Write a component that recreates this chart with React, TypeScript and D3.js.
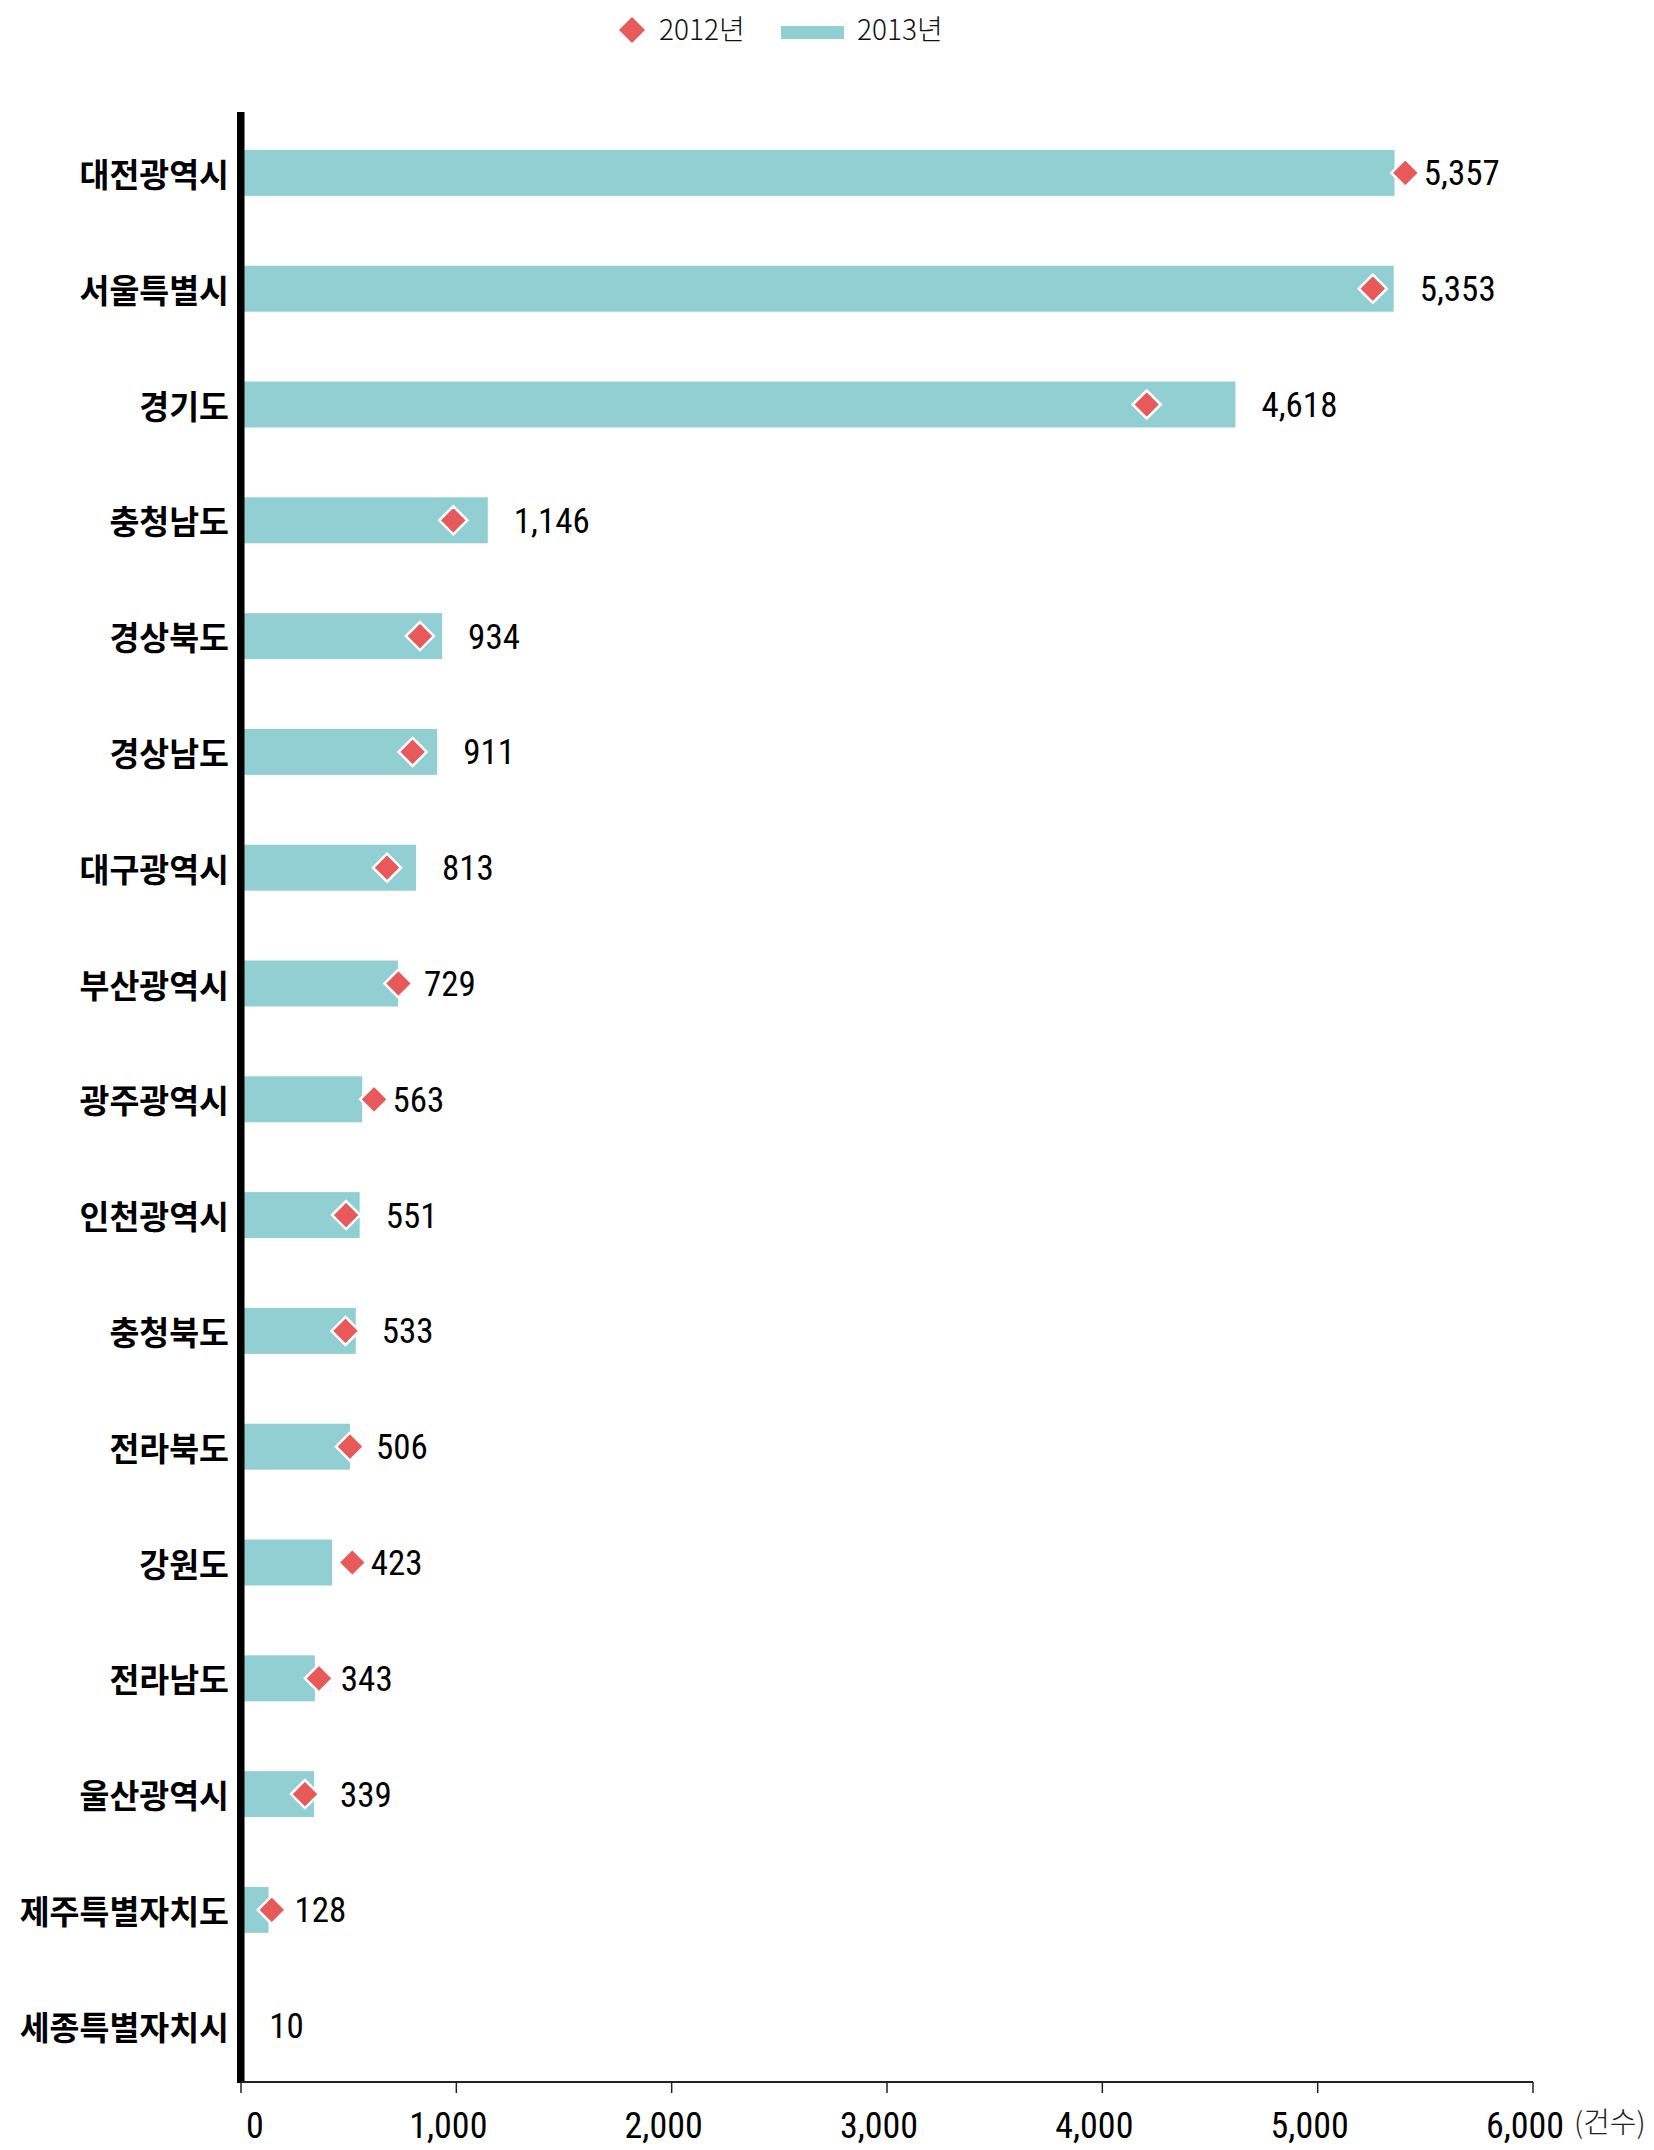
import React from "react";
import * as d3 from "d3";

const categories = [
  "대전광역시", "서울특별시", "경기도", "충청남도", "경상북도", "경상남도", "대구광역시", "부산광역시",
  "광주광역시", "인천광역시", "충청북도", "전라북도", "강원도", "전라남도", "울산광역시", "제주특별자치도", "세종특별자치시",
];
const values2013 = [5357, 5353, 4618, 1146, 934, 911, 813, 729, 563, 551, 533, 506, 423, 343, 339, 128, 10];
const values2012: (number | null)[] = [5407, 5256, 4206, 986, 831, 797, 678, 731, 618, 488, 485, 506, 517, 362, 297, 143, null];
const xTicks = [0, 1000, 2000, 3000, 4000, 5000, 6000];
const legendLabels = ["2012년", "2013년"];
const unitLabel = "(건수)";

const W = 1654;
const H = 2150;
const BAR_COLOR = "#92CFD3";
const DIAMOND_COLOR = "#E8595A";
const NUM_FONT = "'Liberation Sans Narrow', 'Roboto Condensed', 'DejaVu Sans Condensed', 'Liberation Sans', sans-serif";
const KR_FONT = "'Noto Sans CJK KR', 'Noto Sans', sans-serif";

export default function App() {
  const x = d3.scaleLinear().domain([0, 6000]).range([241, 1533]);
  const y = d3.scaleBand<string>().domain(categories).range([115, 2083.6]).paddingInner(0.603).paddingOuter(0.3015);
  const fmt = d3.format(",");
  const R = 14;
  const diamond = (cx: number, cy: number, r: number) =>
    `M${cx},${cy - r}L${cx + r},${cy}L${cx},${cy + r}L${cx - r},${cy}Z`;
  const axisY = 2082;

  return (
    <svg width={W} height={H} style={{ position: "absolute", left: 0, top: 0, background: "#fff" }}>
      {/* legend */}
      <path d={diamond(632, 30, 13)} fill={DIAMOND_COLOR} />
      <text x={659} y={40} fontFamily={KR_FONT} fontWeight={300} fontSize={28} fill="#111">{legendLabels[0]}</text>
      <rect x={781} y={26} width={63} height={13} fill={BAR_COLOR} />
      <text x={857} y={40} fontFamily={KR_FONT} fontWeight={300} fontSize={28} fill="#111">{legendLabels[1]}</text>

      {/* bars */}
      {categories.map((c, i) => (
        <rect key={"b" + c} x={x(0)} y={y(c)} width={x(values2013[i]) - x(0)} height={y.bandwidth()} fill={BAR_COLOR} />
      ))}

      {/* diamonds */}
      {categories.map((c, i) => {
        const v = values2012[i];
        if (v == null) return null;
        const cy = (y(c) as number) + y.bandwidth() / 2;
        return (
          <path key={"d" + c} d={diamond(x(v), cy, R)} fill={DIAMOND_COLOR} stroke="#fff" strokeWidth={2.5} strokeLinejoin="miter" />
        );
      })}

      {/* value labels */}
      {categories.map((c, i) => {
        const cy = (y(c) as number) + y.bandwidth() / 2;
        const barEnd = x(values2013[i]);
        const v = values2012[i];
        const dRight = v == null ? 0 : x(v) + R + 1.5;
        const lx = Math.max(barEnd + 26, dRight + 3);
        return (
          <text key={"v" + c} x={lx} y={cy + 12.5} fontFamily={NUM_FONT} fontSize={35} fill="#000">
            {fmt(values2013[i])}
          </text>
        );
      })}

      {/* category labels */}
      {categories.map((c) => {
        const cy = (y(c) as number) + y.bandwidth() / 2;
        return (
          <text key={"c" + c} x={229} y={cy + 14} textAnchor="end" fontFamily={KR_FONT} fontWeight={600} fontSize={32.5} fill="#000">
            {c}
          </text>
        );
      })}

      {/* thick vertical axis */}
      <rect x={237} y={112} width={7.5} height={axisY - 112 + 1} fill="#000" />

      {/* x axis */}
      <line x1={x(0)} x2={x(6000)} y1={axisY} y2={axisY} stroke="#222" strokeWidth={2} />
      {xTicks.map((t) => (
        <g key={"t" + t}>
          <line x1={x(t)} x2={x(t)} y1={axisY} y2={axisY + 11} stroke="#222" strokeWidth={1.5} />
          <text x={x(t) + (t === 0 ? 14 : -8)} y={2138} textAnchor="middle" fontFamily={NUM_FONT} fontSize={36} fill="#000">
            {fmt(t)}
          </text>
        </g>
      ))}
      <text x={1574} y={2133} fontFamily={KR_FONT} fontWeight={300} fontSize={29} fill="#222">{unitLabel}</text>
    </svg>
  );
}
